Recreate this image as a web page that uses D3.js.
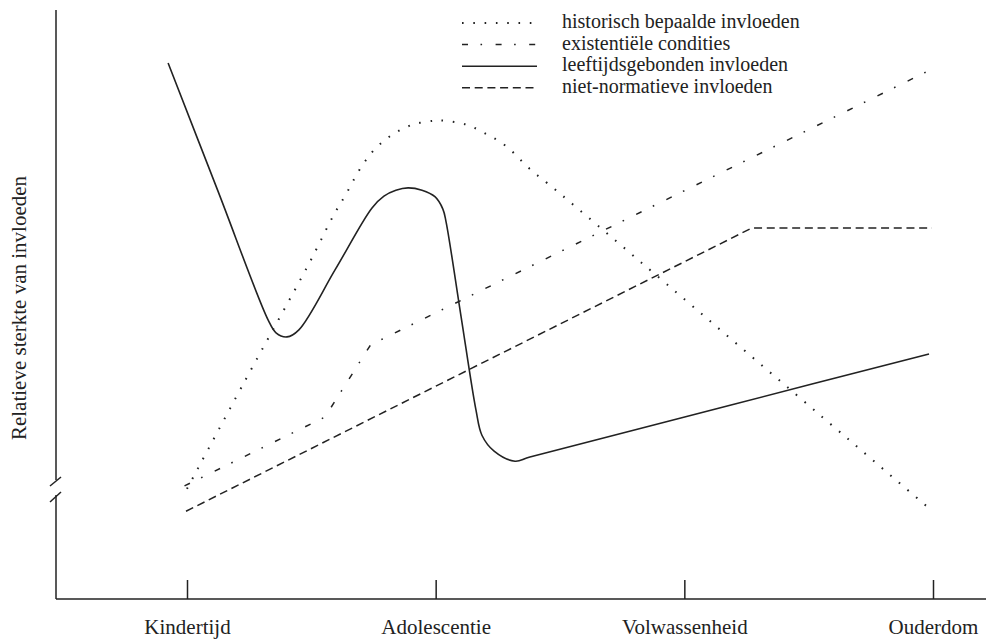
<!DOCTYPE html>
<html>
<head>
<meta charset="utf-8">
<script src="https://cdn.jsdelivr.net/npm/d3@7"></script>
<style>
  body { margin: 0; background: #fff; }
  text { font-family: "Liberation Serif", "DejaVu Serif", serif; fill: #222; }
</style>
</head>
<body>
<div id="chart"></div>
<script>
// life stages on the x axis (position 0..3)
const stages = ["Kindertijd", "Adolescentie", "Volwassenheid", "Ouderdom"];

// [stage position, relative strength 0..100]
const historisch = [
  [0.0, 18.7], [0.23, 36.8], [0.49, 56.9], [0.59, 65.2], [0.635, 68.4],
  [0.70, 73.3], [0.756, 76.4], [0.824, 78.8], [0.905, 80.5], [0.993, 81.2],
  [1.037, 81.2], [1.126, 80.5], [1.206, 78.9], [1.283, 76.9], [1.379, 73.0],
  [1.484, 69.4], [2.984, 15.4]
];
const existentieel = [
  [-0.01, 19.2], [0.555, 30.9], [0.736, 43.0], [0.784, 44.1], [2.988, 89.8]
];
const leeftijd = [
  [-0.076, 91.0], [0.125, 69.2], [0.326, 47.4], [0.358, 45.2], [0.402, 44.5],
  [0.45, 45.7], [0.597, 56.0], [0.744, 66.4], [0.792, 68.4], [0.84, 69.4],
  [0.889, 69.8], [0.945, 69.4], [0.997, 68.3], [1.029, 66.2], [1.042, 64.0],
  [1.102, 48.0], [1.162, 32.1], [1.186, 27.8], [1.235, 25.1], [1.319, 23.4],
  [1.379, 24.1], [2.184, 32.9], [2.984, 41.6]
];
const nietNormatief = [
  [-0.004, 14.9], [2.272, 63.0], [2.996, 63.0]
];

const legendLabels = [
  "historisch bepaalde invloeden",
  "existentiële condities",
  "leeftijdsgebonden invloeden",
  "niet-normatieve invloeden"
];

const width = 986, height = 640;
const axisX = 56, axisY = 599;

const styles = [
  { dash: "1.6,9.7", width: 2, curve: d3.curveCatmullRom.alpha(0.5) },
  { dash: "6,12.5,1.6,13.5", width: 1.5, curve: d3.curveLinear },
  { dash: null, width: 1.6, curve: d3.curveCatmullRom.alpha(0.5) },
  { dash: "8,4.7", width: 1.5, curve: d3.curveLinear }
];
const series = [historisch, existentieel, leeftijd, nietNormatief];

const svg = d3.select("#chart").append("svg")
  .attr("width", width)
  .attr("height", height);

const x = d3.scaleLinear().domain([0, 3]).range([187, 933]);
const y = d3.scaleLinear().domain([0, 100]).range([axisY, 10]);

// axis frame with break
const frame = svg.append("g").attr("stroke", "#222").attr("stroke-width", 1.5).attr("fill", "none");
frame.append("line").attr("x1", axisX).attr("x2", axisX).attr("y1", 10).attr("y2", 480);
frame.append("line").attr("x1", axisX).attr("x2", axisX).attr("y1", 495).attr("y2", axisY);
frame.append("line").attr("x1", 50).attr("x2", 61).attr("y1", 486).attr("y2", 477);
frame.append("line").attr("x1", 50).attr("x2", 61).attr("y1", 502).attr("y2", 492);
frame.append("line").attr("x1", axisX).attr("x2", width).attr("y1", axisY).attr("y2", axisY);

const xAxis = d3.axisBottom(x)
  .tickValues([0, 1, 2, 3])
  .tickFormat((d) => stages[d])
  .tickSizeInner(-19)
  .tickSizeOuter(0)
  .tickPadding(20);

const gx = svg.append("g")
  .attr("transform", `translate(0,${axisY})`)
  .call(xAxis);
gx.select(".domain").remove();
gx.selectAll(".tick line").attr("stroke", "#222").attr("stroke-width", 1.5);
gx.selectAll(".tick text")
  .style("font-family", '"Liberation Serif", serif')
  .style("font-size", "21px")
  .attr("fill", "#222");

svg.append("text")
  .attr("transform", "translate(26,308) rotate(-90)")
  .attr("text-anchor", "middle")
  .style("font-size", "21px")
  .text("Relatieve sterkte van invloeden");

// lines
series.forEach((data, i) => {
  const line = d3.line()
    .x((d) => x(d[0]))
    .y((d) => y(d[1]))
    .curve(styles[i].curve);
  svg.append("path")
    .datum(data)
    .attr("d", line)
    .attr("fill", "none")
    .attr("stroke", "#222")
    .attr("stroke-width", styles[i].width)
    .attr("stroke-dasharray", styles[i].dash);
});

// legend
const legend = svg.append("g");
legendLabels.forEach((label, i) => {
  const base = 28 + i * 21.6;
  legend.append("line")
    .attr("x1", 462).attr("x2", 537)
    .attr("y1", base - 5).attr("y2", base - 5)
    .attr("stroke", "#222")
    .attr("stroke-width", styles[i].width)
    .attr("stroke-dasharray", styles[i].dash);
  legend.append("text")
    .attr("x", 562)
    .attr("y", base)
    .style("font-size", "20px")
    .text(label);
});
</script>
</body>
</html>
